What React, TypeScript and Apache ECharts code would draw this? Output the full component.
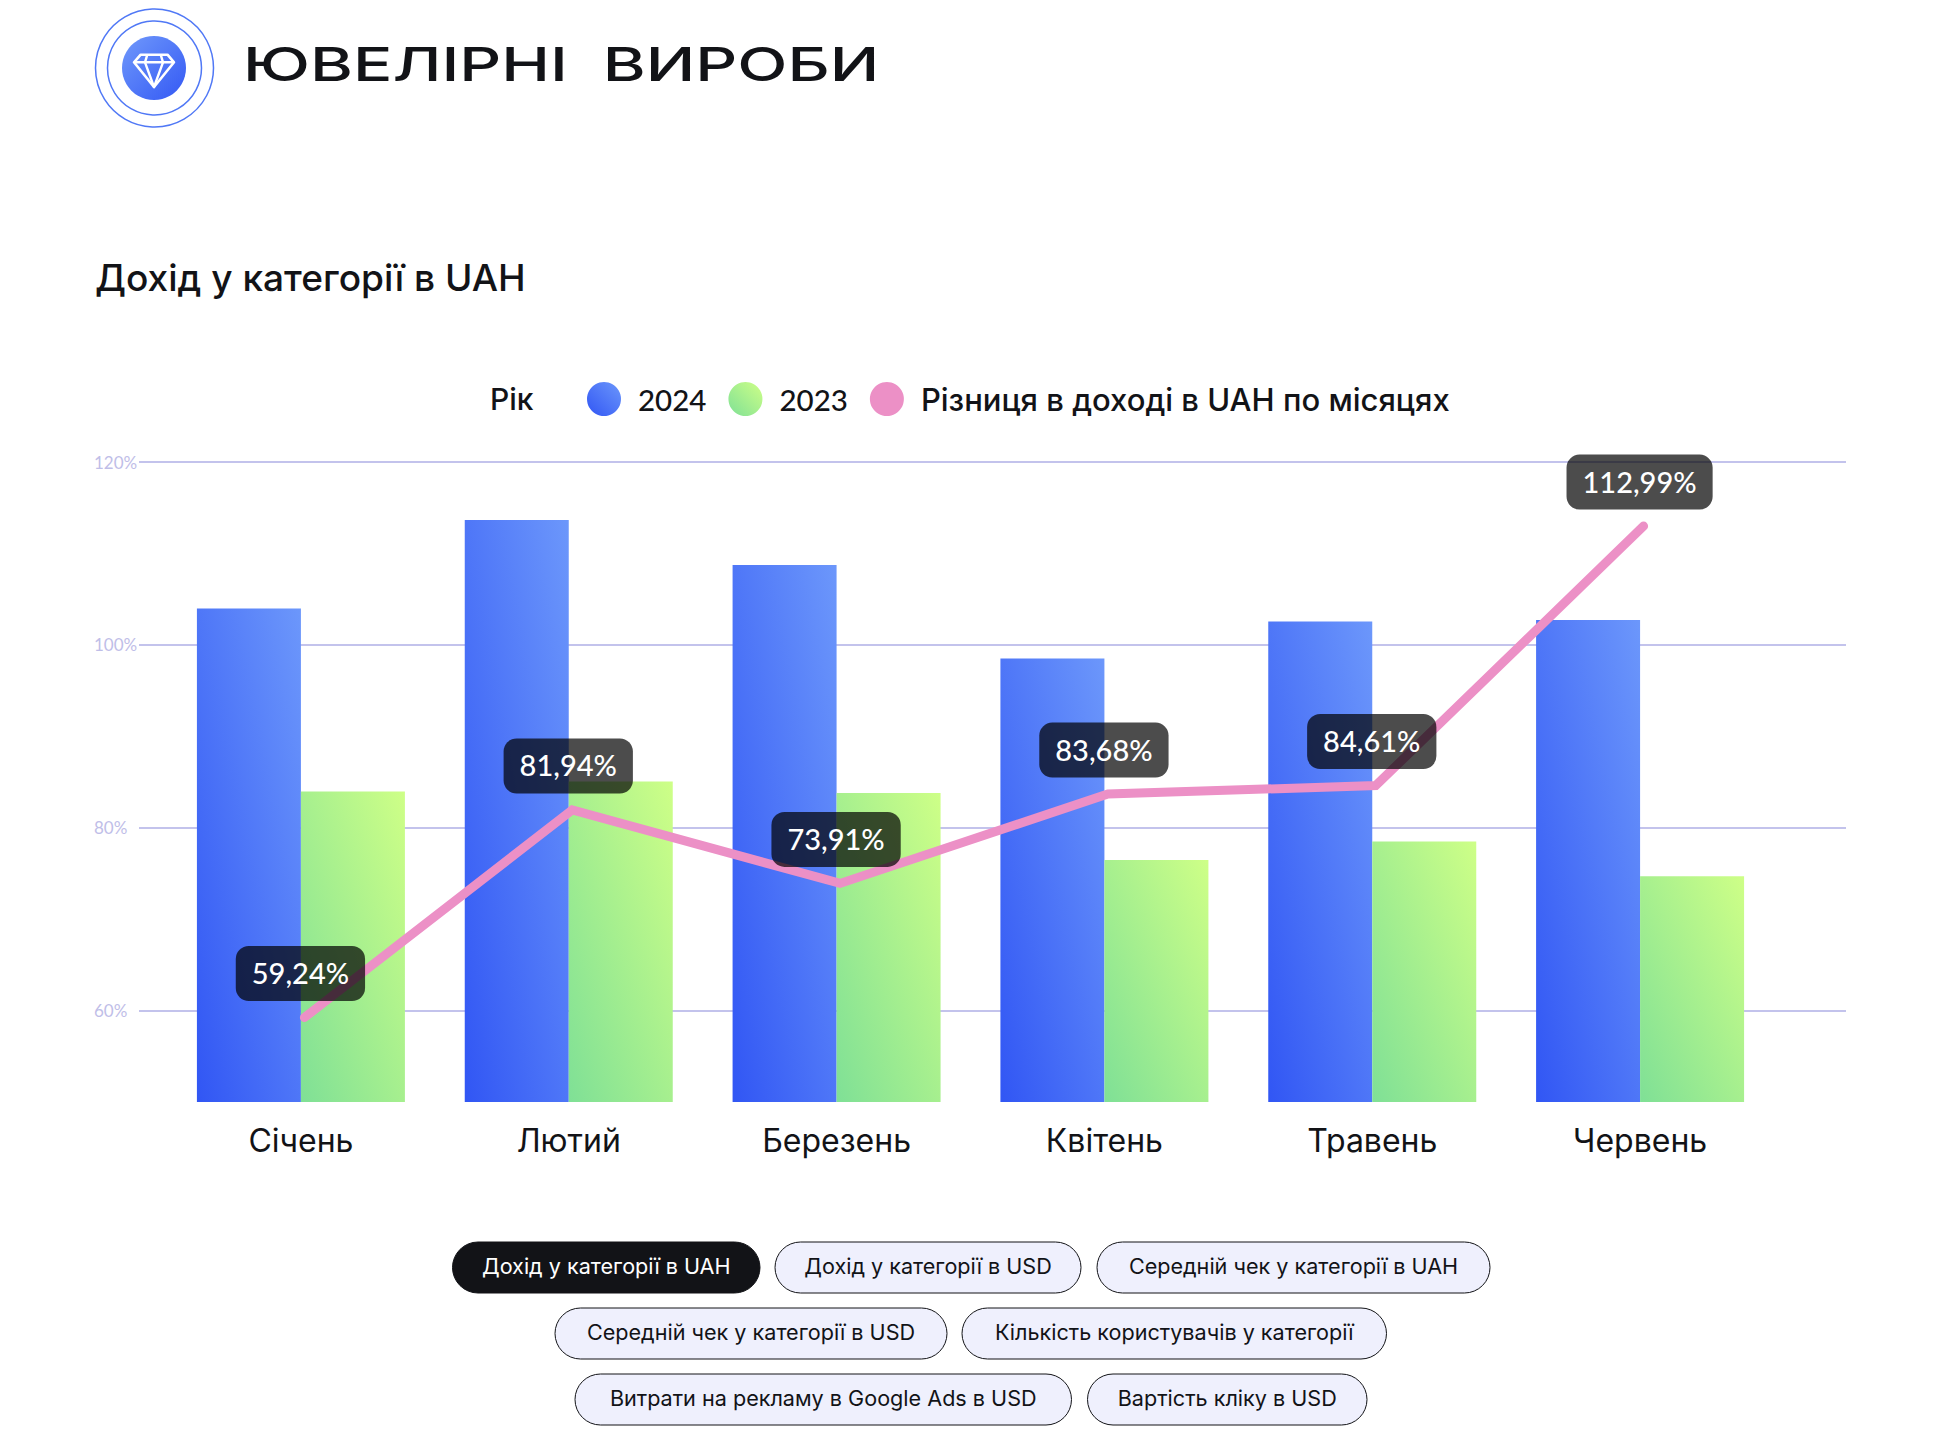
import React, { useEffect, useRef } from "react";
import * as echarts from "echarts";

const categories = ["Січень", "Лютий", "Березень", "Квітень", "Травень", "Червень"];
const values2024 = [103.97, 113.66, 108.74, 98.5, 102.55, 102.73];
const values2023 = [83.97, 85.06, 83.8, 76.47, 78.5, 74.7];
const diffValues = [59.24, 81.94, 73.91, 83.68, 84.61, 112.99];
const yTicks = [60, 80, 100, 120];
const seriesNames = ["2024", "2023", "Різниця в доході в UAH по місяцях"];
const pageTitle = "ЮВЕЛІРНІ  ВИРОБИ";
const subTitle = "Дохід у категорії в UAH";
const legendTitle = "Рік";
const buttonRows = [
  ["Дохід у категорії в UAH", "Дохід у категорії в USD", "Середній чек у категорії в UAH"],
  ["Середній чек у категорії в USD", "Кількість користувачів у категорії"],
  ["Витрати на рекламу в Google Ads в USD", "Вартість кліку в USD"],
];
const buttonBoxes = [
  [[452.5, 307.5], [775, 306], [1097, 393]],
  [[555, 392], [962, 424.5]],
  [[575, 496.5], [1087.5, 279.5]],
];

const INK = "#121317";
const FONT = "Inter";

const grad = (a: string, b: string) =>
  new echarts.graphic.LinearGradient(0, 1, 1, 0, [
    { offset: 0, color: a },
    { offset: 1, color: b },
  ]);

function buildButtons() {
  const out: any[] = [];
  const rowTop = [1242, 1308, 1374];
  buttonRows.forEach((row, r) => {
    row.forEach((label, i) => {
      const [x, w] = buttonBoxes[r][i];
      const active = r === 0 && i === 0;
      out.push({
        type: "rect",
        shape: { x, y: rowTop[r], width: w, height: 51, r: 25.5 },
        style: { fill: active ? INK : "#eff0fd", stroke: INK, lineWidth: 1 },
      });
      out.push({
        type: "text",
        x: x + w / 2,
        y: rowTop[r] + 24,
        style: {
          text: label,
          fill: active ? "#ffffff" : INK,
          fontFamily: FONT,
          fontSize: 21.6,
          fontWeight: 400,
          align: "center",
          verticalAlign: "middle",
        },
      });
    });
  });
  return out;
}

export default function App() {
  const ref = useRef<HTMLDivElement>(null);
  useEffect(() => {
    const chart = echarts.init(ref.current!, undefined, { renderer: "svg" });
    const yBase = { type: "value", min: 50, max: 120 };
    chart.setOption({
      animation: false,
      backgroundColor: "#ffffff",
      grid: [
        { left: 139, right: 98, top: 462, height: 640 },
        { left: 167, width: 1607, top: 462, height: 640 },
        { left: 170.5, width: 1607, top: 462, height: 640 },
      ],
      xAxis: [
        { type: "category", gridIndex: 0, data: categories, show: false },
        {
          type: "category",
          gridIndex: 1,
          data: categories,
          axisLine: { show: false },
          axisTick: { show: false },
          axisLabel: { color: INK, fontFamily: FONT, fontSize: 32, fontWeight: 400, margin: 22 },
        },
        { type: "category", gridIndex: 2, data: categories, show: false },
      ],
      yAxis: [
        {
          ...yBase,
          gridIndex: 0,
          axisLine: { show: false },
          axisTick: { show: false, customValues: yTicks },
          axisLabel: {
            customValues: yTicks,
            formatter: "{value}%",
            color: "#bfbee8",
            fontFamily: "Lato",
            fontWeight: 400,
            fontSize: 17,
            align: "left",
            margin: 45,
            padding: [3, 0, 0, 0],
          },
          splitLine: { show: true, lineStyle: { color: "#c3c3ec", width: 2 } },
        },
        { ...yBase, gridIndex: 1, show: false, splitLine: { show: false } },
        { ...yBase, gridIndex: 2, show: false, splitLine: { show: false } },
      ],
      legend: {
        left: 582,
        top: 377,
        icon: "circle",
        itemWidth: 34,
        itemHeight: 34,
        itemGap: 22,
        data: seriesNames,
        formatter: (n: string) => (n.length <= 4 ? `{d|${n}}` : `{t|${n}}`),
        textStyle: {
          color: INK,
          padding: [0, 0, 0, 12],
          rich: {
            d: { color: INK, fontFamily: "Lato", fontSize: 29.5, fontWeight: 500 },
            t: { color: INK, fontFamily: FONT, fontSize: 31, fontWeight: 500 },
          },
        },
      },
      series: [
        {
          name: seriesNames[0],
          type: "bar",
          xAxisIndex: 1,
          yAxisIndex: 1,
          data: values2024,
          barWidth: 104,
          barGap: 0,
          itemStyle: { color: grad("#3156f4", "#6c97fb") },
        },
        {
          name: seriesNames[1],
          type: "bar",
          xAxisIndex: 1,
          yAxisIndex: 1,
          data: values2023,
          barWidth: 104,
          barGap: 0,
          itemStyle: { color: grad("#7fe096", "#ceff87") },
        },
        {
          name: seriesNames[2],
          type: "line",
          xAxisIndex: 2,
          yAxisIndex: 2,
          data: diffValues,
          symbol: "circle",
          symbolSize: 1,
          showSymbol: true,
          itemStyle: { color: "#ec90c6" },
          lineStyle: { color: "#ec90c6", width: 9, cap: "round", join: "miter" },
          label: {
            show: true,
            position: "top",
            distance: 16,
            offset: [-4, 0],
            formatter: (p: any) => p.value.toFixed(2).replace(".", ",") + "%",
            color: "#ffffff",
            fontFamily: "Lato",
            fontWeight: 500,
            fontSize: 29,
            lineHeight: 35,
            padding: [9, 16, 11, 16],
            borderRadius: 13,
            backgroundColor: "rgba(0,0,0,0.7)",
          },
        },
      ],
      graphic: [
        {
          type: "circle",
          shape: { cx: 154.5, cy: 68, r: 59 },
          style: { fill: "none", stroke: "#5078f6", lineWidth: 1.5 },
        },
        {
          type: "circle",
          shape: { cx: 154.5, cy: 68, r: 47 },
          style: { fill: "none", stroke: "#5078f6", lineWidth: 1.5 },
        },
        {
          type: "circle",
          shape: { cx: 154, cy: 68, r: 32 },
          style: { fill: new echarts.graphic.LinearGradient(0, 0, 1, 1, [
            { offset: 0, color: "#7099fb" },
            { offset: 1, color: "#3358f4" },
          ]) },
        },
        {
          type: "polygon",
          shape: { points: [[140.7, 54.7], [167.5, 54.7], [174, 62.3], [154, 87], [134, 62.3]] },
          style: { fill: "none", stroke: "#ffffff", lineWidth: 2.6, lineJoin: "round" },
        },
        {
          type: "polyline",
          shape: { points: [[134, 62.3], [174, 62.3]] },
          style: { fill: "none", stroke: "#ffffff", lineWidth: 2.4 },
        },
        {
          type: "polyline",
          shape: { points: [[147.3, 54.7], [145, 62.3], [154, 87], [163, 62.3], [160.7, 54.7]] },
          style: { fill: "none", stroke: "#ffffff", lineWidth: 2.4, lineJoin: "round" },
        },
        {
          type: "text",
          x: 243,
          y: 64,
          scaleX: 1.393,
          style: {
            text: pageTitle,
            fill: INK,
            fontFamily: FONT,
            fontSize: 47,
            fontWeight: 500,
            verticalAlign: "middle",
          },
        },
        {
          type: "text",
          x: 95,
          y: 277,
          style: {
            text: subTitle,
            fill: INK,
            fontFamily: FONT,
            fontSize: 37.1,
            fontWeight: 500,
            verticalAlign: "middle",
          },
        },
        {
          type: "text",
          x: 490,
          y: 399,
          style: {
            text: legendTitle,
            fill: INK,
            fontFamily: FONT,
            fontSize: 30,
            fontWeight: 500,
            verticalAlign: "middle",
          },
        },
        ...buildButtons(),
      ],
    });
    return () => chart.dispose();
  }, []);
  return <div ref={ref} style={{ width: 1944, height: 1454, position: "absolute", left: 0, top: 0 }} />;
}
